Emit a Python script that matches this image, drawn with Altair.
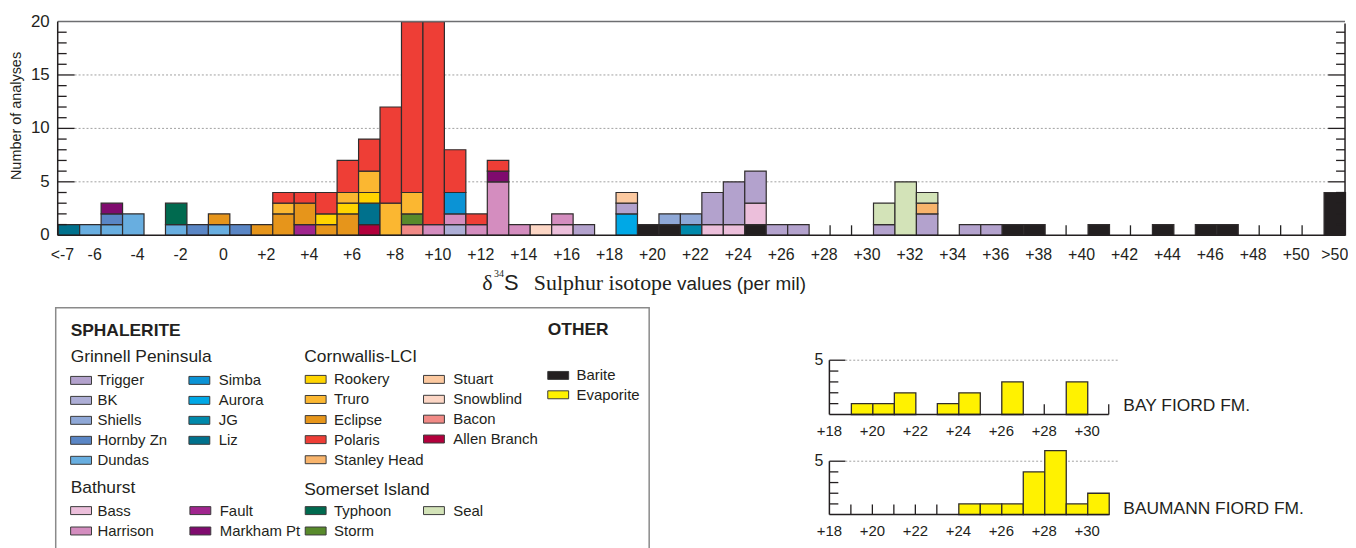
import altair as alt
import pandas as pd

SANS = "Liberation Sans, Arial, sans-serif"
SERIF = "Liberation Serif, Times New Roman, serif"
EDGE = "#302c2d"

# ---------------- data ----------------
deposits = ["Trigger", "BK", "Shiells", "Hornby Zn", "Dundas", "Simba", "Aurora", "JG", "Liz",
            "Rookery", "Truro", "Eclipse", "Polaris", "Stanley Head", "Stuart", "Snowblind", "Bacon",
            "Allen Branch", "Bass", "Harrison", "Fault", "Markham Pt", "Typhoon", "Storm", "Seal",
            "Barite", "Evaporite"]
deposit_colors = ["#b3a2cd", "#adaed6", "#8fa8d7", "#5a86c5", "#68aee0", "#0b93d5", "#00a8e6", "#0089ab", "#00718d",
                  "#ffd400", "#fbb731", "#e6951b", "#ee3e36", "#f8b46c", "#fcc9a0", "#fcd6c5", "#f18a86",
                  "#b2003c", "#ecbfdb", "#d48dbf", "#a0258e", "#7f0b6e", "#006a4f", "#588a2b", "#d3e3b8",
                  "#231f20", "#fff200"]

# stacked segments, bottom to top inside each bin; bin = lower edge (per mil); -8 is "<-7", 51 is ">50"
seg_bin = [-8, -7, -6, -6, -6, -5, -3, -3, -2, -1, -1, 0, 1,
           2, 2, 2, 3, 3, 3, 4, 4, 4, 5, 5, 5, 5, 6, 6, 6, 6, 6,
           7, 7, 8, 8, 8, 8, 9, 9, 10, 10, 10, 10, 11, 11, 12, 12, 12,
           13, 14, 15, 15, 16, 18, 18, 18, 19, 20, 20, 21, 21, 22, 22, 23, 23,
           24, 24, 24, 25, 26, 30, 30, 31, 32, 32, 32, 34, 35, 36, 37, 40, 43, 45, 46, 51]
seg_deposit = ["Liz", "Dundas", "Dundas", "Hornby Zn", "Markham Pt", "Dundas", "Dundas", "Typhoon",
               "Hornby Zn", "Dundas", "Eclipse", "Hornby Zn", "Eclipse",
               "Eclipse", "Truro", "Polaris", "Fault", "Eclipse", "Polaris", "Eclipse", "Rookery", "Polaris",
               "Eclipse", "Rookery", "Truro", "Polaris", "Allen Branch", "Liz", "Rookery", "Truro", "Polaris",
               "Truro", "Polaris", "Bacon", "Storm", "Truro", "Polaris", "Harrison", "Polaris",
               "BK", "Harrison", "Simba", "Polaris", "Harrison", "Polaris", "Harrison", "Markham Pt", "Polaris",
               "Harrison", "Snowblind", "Bass", "Harrison", "Trigger", "Aurora", "Trigger", "Stuart",
               "Barite", "Barite", "Shiells", "JG", "Shiells", "Bass", "Trigger", "Bass", "Trigger",
               "Barite", "Bass", "Trigger", "Trigger", "Trigger", "Trigger", "Seal", "Seal",
               "Trigger", "Stanley Head", "Seal", "Trigger", "Trigger", "Barite", "Barite", "Barite",
               "Barite", "Barite", "Barite", "Barite"]
seg_count = [1, 1, 1, 1, 1, 2, 1, 2, 1, 1, 1, 1, 1,
             2, 1, 1, 1, 2, 1, 1, 1, 2, 2, 1, 1, 3, 1, 2, 1, 2, 3,
             3, 9, 1, 1, 2, 16, 1, 19, 1, 1, 2, 4, 1, 1, 5, 1, 1,
             1, 1, 1, 1, 1, 2, 1, 1, 1, 1, 1, 1, 1, 1, 3, 1, 4,
             1, 2, 3, 1, 1, 1, 2, 5, 2, 1, 1, 1, 1, 1, 1, 1, 1, 1, 1, 4]

empty_bin_ticks = [28, 29, 39, 42, 48, 49, 50]

x_tick_pos = [-7.5, -6, -4, -2, 0, 2, 4, 6, 8, 10, 12, 14, 16, 18, 20, 22, 24, 26, 28, 30,
              32, 34, 36, 38, 40, 42, 44, 46, 48, 50, 51.8]
x_tick_text = ["<-7", "-6", "-4", "-2", "0", "+2", "+4", "+6", "+8", "+10", "+12", "+14", "+16", "+18",
               "+20", "+22", "+24", "+26", "+28", "+30", "+32", "+34", "+36", "+38", "+40", "+42",
               "+44", "+46", "+48", "+50", ">50"]
y_tick_values = [0, 5, 10, 15, 20]
y_major = [5, 10, 15]
y_minor = [1, 2, 3, 4, 6, 7, 8, 9, 11, 12, 13, 14, 16, 17, 18, 19]

bay_bin = [19, 20, 21, 23, 24, 26, 29]
bay_count = [1, 1, 2, 1, 2, 3, 3]
bay_ticks = [28, 31]
baum_bin = [24, 25, 26, 27, 28, 29, 30]
baum_count = [1, 1, 1, 4, 6, 1, 2]
baum_ticks = [19, 20, 21, 22, 23]
small_tick_pos = [18, 20, 22, 24, 26, 28, 30]
small_tick_text = ["+18", "+20", "+22", "+24", "+26", "+28", "+30"]
small_minor = [1, 2, 3, 4]

grinnell_a = ["Trigger", "BK", "Shiells", "Hornby Zn", "Dundas"]
grinnell_b = ["Simba", "Aurora", "JG", "Liz"]
bathurst_a = ["Bass", "Harrison"]
bathurst_b = ["Fault", "Markham Pt"]
cornwallis_a = ["Rookery", "Truro", "Eclipse", "Polaris", "Stanley Head"]
cornwallis_b = ["Stuart", "Snowblind", "Bacon", "Allen Branch"]
somerset_a = ["Typhoon", "Storm"]
somerset_b = ["Seal"]
other = ["Barite", "Evaporite"]

# ---------------- layout ----------------
OX, OY = 58.0, 20.0          # page position of the plot origin
W, H = 1295, 528


def px(x):
    return x - OX


def py(y):
    return y - OY


main_x = alt.Scale(domain=[-8, 52], range=[0, W], nice=False, zero=False)
main_y = alt.Scale(domain=[0, 20], range=[py(235), py(20)], nice=False, zero=False)
small_x = alt.Scale(domain=[18, 31], range=[px(834.3), px(1115.3)], nice=False, zero=False)
bay_y = alt.Scale(domain=[0, 5], range=[py(415.3), py(360.7)], nice=False, zero=False)
baum_y = alt.Scale(domain=[0, 5], range=[py(516), py(462.3)], nice=False, zero=False)
color_scale = alt.Scale(domain=deposits, range=deposit_colors)

one = pd.DataFrame({"a": [0]})
layers = []

# ---- main chart ----
seg_df = pd.DataFrame({"lo": seg_bin, "deposit": seg_deposit, "count": seg_count})
seg_df["hi"] = seg_df["lo"] + 1
seg_df["ord"] = seg_df.groupby("lo").cumcount()

layers.append(alt.Chart(pd.DataFrame({"v": y_major})).mark_rule(
    stroke="#a0a0a0", strokeWidth=1, strokeDash=[2, 2]).encode(
    x=alt.value(px(75)), x2=alt.value(px(1336)), y=alt.Y("v:Q", scale=main_y, axis=None)))

layers.append(alt.Chart(seg_df).mark_bar(stroke=EDGE, strokeWidth=1.2, binSpacing=0).encode(
    x=alt.X("lo:Q", bin="binned", scale=main_x, axis=None),
    x2="hi:Q",
    y=alt.Y("count:Q", stack="zero", scale=main_y, axis=None),
    color=alt.Color("deposit:N", scale=color_scale, legend=None),
    order=alt.Order("ord:Q", sort="ascending"),
))

layers.append(alt.Chart(pd.DataFrame({"x": empty_bin_ticks})).mark_rule(stroke="#222", strokeWidth=1.3).encode(
    x=alt.X("x:Q", scale=main_x, axis=None), y=alt.value(py(235)), y2=alt.value(py(225))))

# frame
layers.append(alt.Chart(one).mark_rule(stroke="#6d6e71", strokeWidth=1.5).encode(
    x=alt.value(0), x2=alt.value(W), y=alt.value(py(20))))
layers.append(alt.Chart(one).mark_rule(stroke="#231f20", strokeWidth=1.5).encode(
    x=alt.value(0), x2=alt.value(W), y=alt.value(py(235))))
layers.append(alt.Chart(one).mark_rule(stroke="#231f20", strokeWidth=1.5).encode(
    x=alt.value(0), y=alt.value(py(20)), y2=alt.value(py(235))))
layers.append(alt.Chart(one).mark_rule(stroke="#231f20", strokeWidth=1.5).encode(
    x=alt.value(W), y=alt.value(py(22)), y2=alt.value(py(235))))

# inward ticks both sides
for vals, ln in ((y_major, 17), (y_minor, 9)):
    d = pd.DataFrame({"v": vals})
    layers.append(alt.Chart(d).mark_rule(stroke="#231f20", strokeWidth=1.3).encode(
        x=alt.value(0), x2=alt.value(ln), y=alt.Y("v:Q", scale=main_y, axis=None)))
    layers.append(alt.Chart(d).mark_rule(stroke="#231f20", strokeWidth=1.3).encode(
        x=alt.value(W - ln), x2=alt.value(W), y=alt.Y("v:Q", scale=main_y, axis=None)))

layers.append(alt.Chart(pd.DataFrame({"v": y_tick_values})).mark_text(
    align="right", baseline="middle", font=SANS, fontSize=17, color="#231f20").encode(
    x=alt.value(-8), y=alt.Y("v:Q", scale=main_y, axis=None), text=alt.Text("v:Q")))

layers.append(alt.Chart(pd.DataFrame({"p": x_tick_pos, "t": x_tick_text})).mark_text(
    align="center", baseline="middle", font=SANS, fontSize=16, dx=-6, color="#231f20").encode(
    x=alt.X("p:Q", scale=main_x, axis=None), y=alt.value(py(255)), text="t:N"))

layers.append(alt.Chart(one).mark_text(
    angle=270, align="center", baseline="middle", font=SANS, fontSize=14.5, color="#231f20",
    text="Number of analyses").encode(x=alt.value(px(17)), y=alt.value(py(115))))

# x title
for txt, xx, yy, fnt, fs in (("δ", 485, 290, SERIF, 22), ("34", 497, 277, SERIF, 10),
                             ("S", 507, 290, SANS, 22), ("Sulphur isotope", 537, 290, SERIF, 22),
                             ("values (per mil)", 681, 290, SANS, 19)):
    layers.append(alt.Chart(one).mark_text(
        align="left", baseline="alphabetic", font=fnt, fontSize=fs, color="#231f20", text=txt).encode(
        x=alt.value(px(xx)), y=alt.value(py(yy))))


# ---- small evaporite charts ----
def small_chart(bins, counts, ticks, ys, tick_label_y, label, label_y):
    out = []
    d = pd.DataFrame({"lo": bins, "count": counts})
    d["hi"] = d["lo"] + 1
    ax = px(834.3)
    out.append(alt.Chart(pd.DataFrame({"v": [5]})).mark_rule(
        stroke="#a0a0a0", strokeWidth=1, strokeDash=[2, 2]).encode(
        x=alt.value(ax + 16), x2=alt.value(px(1125)), y=alt.Y("v:Q", scale=ys, axis=None)))
    out.append(alt.Chart(d).mark_bar(fill="#fff200", stroke=EDGE, strokeWidth=1.3, binSpacing=0).encode(
        x=alt.X("lo:Q", bin="binned", scale=small_x, axis=None), x2="hi:Q",
        y=alt.Y("count:Q", scale=ys, axis=None, stack=None)))
    out.append(alt.Chart(pd.DataFrame({"x": ticks, "y0": [0] * len(ticks), "y1": [0.95] * len(ticks)})).mark_rule(
        stroke="#231f20", strokeWidth=1.3).encode(
        x=alt.X("x:Q", scale=small_x, axis=None), y=alt.Y("y0:Q", scale=ys, axis=None), y2="y1:Q"))
    out.append(alt.Chart(pd.DataFrame({"x0": [18], "x1": [31], "y": [0]})).mark_rule(
        stroke="#231f20", strokeWidth=1.5).encode(
        x=alt.X("x0:Q", scale=small_x, axis=None), x2="x1:Q", y=alt.Y("y:Q", scale=ys, axis=None)))
    out.append(alt.Chart(pd.DataFrame({"x": [18], "y0": [0], "y1": [5]})).mark_rule(
        stroke="#231f20", strokeWidth=1.5).encode(
        x=alt.X("x:Q", scale=small_x, axis=None), y=alt.Y("y0:Q", scale=ys, axis=None), y2="y1:Q"))
    out.append(alt.Chart(pd.DataFrame({"v": [5]})).mark_rule(stroke="#231f20", strokeWidth=1.3).encode(
        x=alt.value(ax), x2=alt.value(ax + 16), y=alt.Y("v:Q", scale=ys, axis=None)))
    out.append(alt.Chart(pd.DataFrame({"v": small_minor})).mark_rule(stroke="#231f20", strokeWidth=1.3).encode(
        x=alt.value(ax), x2=alt.value(ax + 9), y=alt.Y("v:Q", scale=ys, axis=None)))
    out.append(alt.Chart(pd.DataFrame({"v": [5]})).mark_text(
        align="right", baseline="middle", font=SANS, fontSize=16, color="#231f20").encode(
        x=alt.value(ax - 6), y=alt.Y("v:Q", scale=ys, axis=None), text=alt.Text("v:Q")))
    out.append(alt.Chart(pd.DataFrame({"p": small_tick_pos, "t": small_tick_text})).mark_text(
        align="center", baseline="middle", font=SANS, fontSize=15, color="#231f20").encode(
        x=alt.X("p:Q", scale=small_x, axis=None), y=alt.value(py(tick_label_y)), text="t:N"))
    out.append(alt.Chart(one).mark_text(
        align="left", baseline="middle", font=SANS, fontSize=17.5, color="#231f20", text=label).encode(
        x=alt.value(px(1130)), y=alt.value(py(label_y))))
    return out


layers += small_chart(bay_bin, bay_count, bay_ticks, bay_y, 432, "BAY FIORD FM.", 407)
layers += small_chart(baum_bin, baum_count, baum_ticks, baum_y, 533, "BAUMANN FIORD FM.", 510)

# ---- legend ----
layers.append(alt.Chart(one).mark_rect(fillOpacity=0, stroke="#8a8a8a", strokeWidth=1.5).encode(
    x=alt.value(px(56)), x2=alt.value(px(653)), y=alt.value(py(308)), y2=alt.value(py(620))))

groups = [(grinnell_a, 71, 98, 381, 20.1), (grinnell_b, 190, 220, 381, 20.1),
          (bathurst_a, 71, 98, 512, 20.5), (bathurst_b, 191, 221, 512, 20.5),
          (cornwallis_a, 307, 336, 380, 20.2), (cornwallis_b, 426, 456, 380, 20.0),
          (somerset_a, 307, 336, 512, 20.5), (somerset_b, 426, 456, 512, 20.5),
          (other, 551, 580, 376, 19.5)]
rows = []
for names, sx, tx, y0, pitch in groups:
    for i, n in enumerate(names):
        yy = py(y0 + i * pitch)
        rows.append({"deposit": n, "sx": px(sx), "sx2": px(sx + 21), "tx": px(tx),
                     "y": yy, "sy": yy - 4, "sy2": yy + 4})
leg = pd.DataFrame(rows)
layers.append(alt.Chart(leg).mark_rect(stroke="#3a3a3a", strokeWidth=1).encode(
    x=alt.X("sx:Q", scale=None), x2="sx2:Q", y=alt.Y("sy:Q", scale=None), y2="sy2:Q",
    color=alt.Color("deposit:N", scale=color_scale, legend=None)))
layers.append(alt.Chart(leg).mark_text(
    align="left", baseline="middle", font=SANS, fontSize=15, color="#231f20").encode(
    x=alt.X("tx:Q", scale=None), y=alt.Y("y:Q", scale=None), text="deposit:N"))

heads = pd.DataFrame({"t": ["Grinnell Peninsula", "Cornwallis-LCI", "Bathurst", "Somerset Island"],
                      "x": [px(71), px(306), px(71), px(306)],
                      "y": [py(358), py(358), py(489), py(491)]})
layers.append(alt.Chart(heads).mark_text(
    align="left", baseline="middle", font=SANS, fontSize=17.5, color="#231f20").encode(
    x=alt.X("x:Q", scale=None), y=alt.Y("y:Q", scale=None), text="t:N"))
bold = pd.DataFrame({"t": ["SPHALERITE", "OTHER"], "x": [px(71), px(551)], "y": [py(331), py(330)]})
layers.append(alt.Chart(bold).mark_text(
    align="left", baseline="middle", font=SANS, fontSize=17.5, fontWeight="bold", color="#231f20").encode(
    x=alt.X("x:Q", scale=None), y=alt.Y("y:Q", scale=None), text="t:N"))

chart = alt.layer(*layers).resolve_scale(x="independent", y="independent").properties(
    width=W, height=H,
    padding={"left": 50, "top": 12, "right": 3, "bottom": 0},
    autosize=alt.AutoSizeParams(type="none"),
    background="white",
).configure_view(stroke=None)

chart.save("out.html", embed_options={"renderer": "svg", "actions": False})
